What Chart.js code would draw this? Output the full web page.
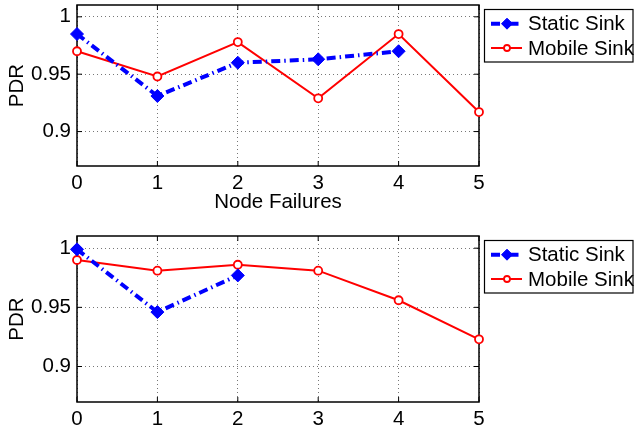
<!DOCTYPE html>
<html><head><meta charset="utf-8">
<script src="https://cdn.jsdelivr.net/npm/chart.js@4"></script>
<style>
html,body{margin:0;padding:0;background:#fff;overflow:hidden}
canvas{position:absolute;left:0}
#c1{top:-10px}#c2{top:215px}
</style></head>
<body>
<canvas id="c1" width="634" height="225"></canvas>
<canvas id="c2" width="634" height="215"></canvas>
<script>
const categories = [0, 1, 2, 3, 4, 5];
const xTickLabels = ['0', '1', '2', '3', '4', '5'];
const yTicks = [0.9, 0.95, 1];
const yTickLabels = ['0.9', '0.95', '1'];
const seriesNames = ['Static Sink', 'Mobile Sink'];
const xAxisTitle = 'Node Failures';
const yAxisTitle = 'PDR';
const staticTop = [0.985, 0.931, 0.960, 0.963, 0.970];
const mobileTop = [0.970, 0.948, 0.978, 0.929, 0.985, 0.917];
const staticBottom = [0.999, 0.946, 0.977];
const mobileBottom = [0.990, 0.981, 0.986, 0.981, 0.956, 0.923];

const FONT = "'Liberation Sans', Arial, Helvetica, sans-serif";
const FS = 20.5;
Chart.defaults.font.family = FONT;
Chart.defaults.font.size = FS;
Chart.defaults.color = '#000';

const framePlugin = {
  id: 'frame',
  beforeDatasetsDraw(chart) {
    const {ctx, chartArea: a, scales: {x, y}} = chart;
    ctx.save();
    ctx.strokeStyle = '#000';
    ctx.lineWidth = 1.5;
    ctx.setLineDash([]);
    ctx.strokeRect(a.left, a.top, a.right - a.left, a.bottom - a.top);
    ctx.lineWidth = 1;
    const L = 5;
    ctx.beginPath();
    x.ticks.forEach(t => {
      const px = x.getPixelForValue(t.value);
      ctx.moveTo(px, a.bottom); ctx.lineTo(px, a.bottom - L);
      ctx.moveTo(px, a.top); ctx.lineTo(px, a.top + L);
    });
    y.ticks.forEach(t => {
      const py = y.getPixelForValue(t.value);
      ctx.moveTo(a.left, py); ctx.lineTo(a.left + L, py);
      ctx.moveTo(a.right, py); ctx.lineTo(a.right - L, py);
    });
    ctx.stroke();
    ctx.restore();
  }
};

function drawMarker(ctx, ds, cx, cy, r) {
  ctx.save();
  ctx.setLineDash([]);
  ctx.lineWidth = ds.pointBorderWidth;
  ctx.strokeStyle = ds.pointBorderColor;
  ctx.fillStyle = ds.pointBackgroundColor;
  ctx.beginPath();
  if (ds.pointStyle === 'rectRot') {
    ctx.moveTo(cx, cy - r); ctx.lineTo(cx + r, cy); ctx.lineTo(cx, cy + r); ctx.lineTo(cx - r, cy); ctx.closePath();
  } else {
    ctx.arc(cx, cy, r, 0, Math.PI * 2);
  }
  ctx.fill(); ctx.stroke();
  ctx.restore();
}

const legendPlugin = {
  id: 'boxLegend',
  afterDraw(chart, args, opts) {
    const {ctx} = chart;
    const bx = 484.5, by = opts.top + 0.5, bw = 148.5, bh = 52.5;
    ctx.save();
    ctx.fillStyle = '#fff';
    ctx.fillRect(bx, by, bw, bh);
    ctx.strokeStyle = '#000';
    ctx.lineWidth = 1.2;
    ctx.strokeRect(bx, by, bw, bh);
    chart.data.datasets.forEach((ds, i) => {
      const cy = opts.top + 14.7 + i * 24.3;
      ctx.save();
      ctx.strokeStyle = ds.borderColor;
      ctx.lineWidth = ds.borderWidth;
      ctx.setLineDash(ds.borderDash || []);
      ctx.beginPath();
      ctx.moveTo(491, cy); ctx.lineTo(522, cy);
      ctx.stroke();
      ctx.restore();
      drawMarker(ctx, ds, 507, cy, i === 0 ? 5.5 : 3);
      ctx.fillStyle = '#000';
      ctx.font = FS + 'px ' + FONT;
      ctx.textBaseline = 'middle';
      ctx.textAlign = 'left';
      ctx.fillText(ds.label, 528, cy + 1);
    });
    ctx.restore();
  }
};

function makeChart(id, staticVals, mobileVals, cfg) {
  const staticData = staticVals.map((v, i) => ({x: categories[i], y: v}));
  const mobileData = mobileVals.map((v, i) => ({x: categories[i], y: v}));
  return new Chart(document.getElementById(id), {
    type: 'line',
    data: {
      datasets: [
        {
          label: seriesNames[0], data: staticData,
          borderColor: '#0000ff', borderWidth: 4, borderDash: [9, 4, 1.5, 4],
          borderCapStyle: 'butt',
          pointStyle: 'rectRot', pointRadius: 6.5, pointBorderWidth: 1,
          pointBackgroundColor: '#0000ff', pointBorderColor: '#0000ff',
          tension: 0, clip: false
        },
        {
          label: seriesNames[1], data: mobileData,
          borderColor: '#ff0000', borderWidth: 2,
          pointStyle: 'circle', pointRadius: 4, pointBorderWidth: 1.8,
          pointBackgroundColor: '#ffffff', pointBorderColor: '#ff0000',
          tension: 0, clip: false
        }
      ]
    },
    options: {
      responsive: false,
      animation: false,
      layout: {padding: {left: 0, right: 155, top: cfg.top, bottom: 0}},
      plugins: {
        legend: {display: false},
        tooltip: {enabled: false},
        boxLegend: {top: cfg.legendTop}
      },
      scales: {
        x: {
          type: 'linear', min: 0, max: 5,
          afterBuildTicks: s => { s.ticks = categories.map(v => ({value: v})); },
          afterFit: s => { s.height = cfg.xHeight; s.paddingLeft = 0; s.paddingRight = 0; },
          ticks: {
            padding: 5, maxRotation: 0, autoSkip: false,
            callback: (v) => xTickLabels[categories.indexOf(v)]
          },
          grid: {color: '#777', lineWidth: 1, drawTicks: false},
          border: {display: false, dash: [1, 3]},
          title: {display: cfg.showTitle, text: xAxisTitle, font: {size: FS}, padding: {top: 0, bottom: 0.7}}
        },
        y: {
          type: 'linear', min: 0.87, max: 1.0103,
          afterBuildTicks: s => { s.ticks = yTicks.map(v => ({value: v})); },
          afterFit: s => { s.width = 77; s.paddingTop = 0; s.paddingBottom = 0; },
          ticks: {
            padding: 6,
            callback: (v) => yTickLabels[yTicks.indexOf(v)]
          },
          grid: {color: '#777', lineWidth: 1, drawTicks: false},
          border: {display: false, dash: [1, 3]},
          title: {display: true, text: yAxisTitle, font: {size: FS}, padding: {top: 4.7, bottom: 0}}
        }
      }
    },
    plugins: [framePlugin, legendPlugin]
  });
}

makeChart('c1', staticTop, mobileTop, {top: 15, xHeight: 49, showTitle: true, legendTop: 19});
makeChart('c2', staticBottom, mobileBottom, {top: 21, xHeight: 28, showTitle: false, legendTop: 25});
</script>
</body></html>
